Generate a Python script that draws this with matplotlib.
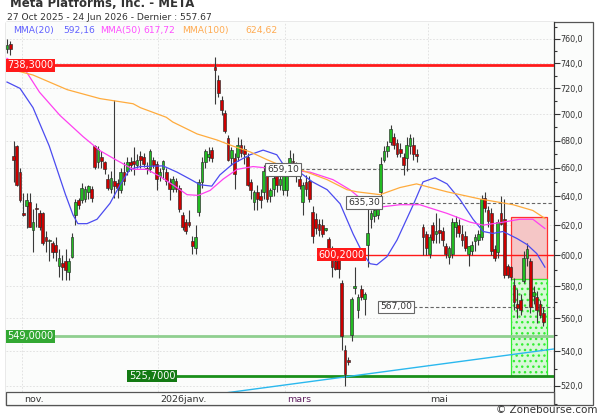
import matplotlib.pyplot as plt
import numpy as np
from matplotlib.patches import Rectangle
from matplotlib.ticker import FixedLocator, NullFormatter, NullLocator

# Données : séances (indice), cours OHLC
days = list(range(0, 127)) + list(range(128, 166))
opens = [752, 756, 669, 676, 657, 628, 633, 636, 617, 632, 628, 628, 612, 609, 608, 607, 593, 595, 596, 589,
         599, 627, 637, 637, 638, 643, 645, 676, 664, 668, 664, 652, 645, 651, 649, 644, 657, 658, 664, 665,
         662, 669, 668, 660, 659, 666, 663, 654, 659, 657, 650, 645, 651, 646, 627, 622, 622, 609, 605, 629,
         650, 664, 668, 673, 737, 727, 711, 701, 682, 667, 667, 668, 677, 674, 668, 650, 636, 643, 640, 643,
         655, 640, 645, 655, 648, 644, 644, 657, 665, 660, 652, 636, 650, 651, 629, 624, 621, 620, 617, 611,
         603, 596, 597, 582, 541, 535, 550, 579, 565, 578, 572, 607, 624, 626, 627, 643, 666, 672, 679, 683,
         678, 674, 668, 667, 676, 677, 670,
         619, 614, 601, 620, 614, 617, 616, 606, 599, 601, 619, 620, 614, 613, 601, 603, 609, 610, 612, 639,
         630, 628, 604, 602, 628, 624, 593, 592, 581, 569, 571, 583, 598, 596, 574, 573, 569, 563]
highs = [760, 758, 680, 677, 660, 642, 642, 642, 631, 635, 630, 629, 616, 611, 609, 612, 604, 600, 604, 598,
         615, 638, 639, 649, 647, 648, 647, 677, 676, 672, 665, 656, 658, 711, 652, 660, 664, 668, 668, 675,
         670, 672, 671, 664, 674, 668, 665, 660, 666, 660, 653, 654, 653, 648, 629, 624, 630, 613, 620, 652,
         668, 674, 675, 675, 745, 731, 714, 703, 684, 675, 671, 683, 681, 677, 671, 652, 644, 648, 645, 662,
         658, 646, 655, 660, 655, 660, 662, 673, 671, 664, 654, 650, 655, 654, 633, 628, 624, 624, 618, 612,
         606, 604, 600, 584, 544, 537, 573, 592, 575, 581, 576, 633, 630, 632, 634, 668, 676, 680, 692, 686,
         681, 678, 671, 683, 685, 683, 674,
         621, 616, 614, 622, 628, 625, 619, 608, 606, 625, 626, 624, 620, 616, 606, 609, 614, 617, 641, 643,
         633, 632, 607, 624, 640, 638, 594, 593, 585, 578, 575, 603, 608, 598, 580, 577, 571, 567]
lows = [748, 747, 650, 647, 636, 626, 618, 619, 602, 619, 617, 607, 602, 596, 598, 596, 586, 584, 584, 584,
        598, 620, 631, 635, 636, 638, 636, 659, 660, 660, 656, 644, 642, 639, 639, 642, 648, 655, 658, 655,
        660, 660, 661, 656, 657, 660, 644, 651, 652, 648, 637, 643, 643, 629, 617, 614, 619, 601, 601, 626,
        646, 660, 665, 664, 708, 713, 699, 686, 665, 662, 645, 665, 668, 663, 647, 638, 630, 630, 632, 638,
        636, 636, 640, 643, 644, 641, 640, 654, 655, 650, 645, 627, 640, 636, 608, 614, 613, 612, 616, 603,
        586, 590, 585, 541, 520, 532, 546, 575, 560, 571, 562, 592, 618, 622, 624, 640, 664, 668, 677, 674,
        668, 668, 655, 658, 670, 666, 664,
        600, 600, 598, 608, 608, 608, 606, 598, 594, 598, 612, 612, 606, 603, 593, 600, 603, 607, 610, 629,
        619, 600, 596, 598, 620, 585, 585, 584, 565, 560, 562, 582, 593, 563, 569, 557, 560, 555]
closes = [755, 752, 666, 648, 637, 627, 637, 619, 622, 631, 619, 608, 609, 610, 602, 602, 598, 592, 590, 596,
          612, 636, 634, 646, 645, 647, 639, 661, 674, 665, 659, 646, 653, 647, 646, 657, 651, 664, 662, 663,
          666, 666, 663, 659, 672, 662, 652, 657, 665, 651, 645, 652, 645, 631, 619, 616, 620, 606, 612, 650,
          664, 672, 670, 667, 735, 716, 703, 687, 666, 673, 656, 677, 671, 670, 648, 644, 643, 638, 637, 658,
          638, 644, 653, 648, 652, 658, 659, 667, 664, 656, 647, 648, 645, 638, 613, 618, 617, 614, 617, 604,
          592, 591, 591, 549, 527, 534, 572, 580, 573, 573, 575, 615, 628, 630, 631, 663, 672, 676, 689, 677,
          670, 671, 662, 677, 682, 670, 669,
          612, 605, 612, 610, 616, 615, 610, 601, 605, 622, 622, 615, 610, 605, 606, 607, 612, 614, 638, 632,
          623, 603, 598, 622, 621, 587, 587, 586, 570, 566, 565, 598, 604, 567, 576, 565, 562, 557.67]

# Moyennes mobiles (séance, valeur)
mma20_x = [0, 4, 8, 13, 18, 20.3, 21.8, 24.6, 27.7, 31.7, 34.8, 37.8, 41, 48, 52.3, 56.3, 59.4, 63, 65.5,
           69.5, 74.8, 78.8, 83, 86, 90, 94, 98.5, 102.5, 106.5, 109.5, 111.7, 113.8, 116.9, 120, 125, 128,
           131.7, 135.4, 139.4, 143.4, 146.5, 149.5, 152.6, 156.9, 160, 163, 165.5]
mma20_y = [725, 720, 705, 676, 641, 627, 621, 621, 624, 635, 648, 659, 661, 661.5, 657, 652, 648, 647, 655,
           663, 669.6, 673, 669.6, 659, 657, 650, 644.5, 634.6, 614, 601, 594.4, 593.7, 599, 610, 634, 650,
           653, 648.6, 637.5, 624, 615.7, 614.4, 615.7, 611, 607, 601, 592.16]
mma50_x = [0, 6, 10, 16.3, 23.4, 28.6, 33.8, 38.8, 43, 47, 51, 55.4, 58.8, 62.5, 66.5, 70.8, 75.7, 80, 84,
           93.2, 100.3, 105.5, 110.8, 115.7, 120.9, 127, 135.4, 142.5, 146.5, 152.6, 157.8, 161.8, 165.5]
mma50_y = [744, 733, 717, 699, 683, 672.6, 665.5, 659, 659, 654, 648, 641, 640.5, 644, 652, 659, 661, 660,
           659, 657, 651.6, 644.5, 634.6, 632.6, 634, 634, 628, 622, 620, 622, 624, 624, 617.72]
mma100_x = [0, 8, 18.5, 28.6, 38.8, 41, 49, 51, 58.5, 64.6, 69.5, 74.8, 80, 84, 90, 98.5, 104.6, 107.7,
            114.8, 120.9, 126, 135.4, 145.5, 155.7, 161.8, 165.5]
mma100_y = [736, 730.6, 719, 712, 708, 705, 697.6, 694, 685, 680.5, 676, 671.7, 666, 662, 659, 651.6, 644.5,
            643, 641, 646, 648.6, 643, 638, 634, 630, 624.62]

# Niveaux horizontaux
level_values = [738.3, 600.2, 549.0, 525.7]
level_start = [-0.31, 95.4, -0.31, 37]
level_colors = ['#ff1a1a', '#ff1a1a', '#8fcf8f', '#1a8f1a']
level_box = ['#ff1a1a', '#ff1a1a', '#33a833', '#137a13']
level_widths = [2.0, 1.0, 2.0, 2.0]
dash_values = [659.10, 635.30, 567.00]
dash_start = [80, 105, 114.8]

# Oblique (support) et zones
trend_x = [60, 168.3]
trend_y = [514.3, 541.5]
zone_x = [155.2, 166.2]
zone_red = [584.8, 625.4]
zone_green = [525.7, 584.8]

months = ['nov.', '2026janv.', 'mars', 'mai']
month_pos = [4.5, 46.5, 85.5, 129.5]
month_colors = ['#333333', '#333333', '#602060', '#333333']

W, H = 600, 413
plt.rcParams['hatch.color'] = '#c4eec4'
fig = plt.figure(figsize=(W / 100, H / 100), dpi=100)
fig.patch.set_facecolor('white')


def fx(px):
    return px / W


def fy(py):
    return 1 - py / H


# cadre extérieur
fig.patches.append(Rectangle((fx(6), fy(405)), fx(593) - fx(6), fy(22) - fy(405), transform=fig.transFigure,
                             facecolor='#fbfcfb', edgecolor='#555555', lw=0.9, zorder=-5))

ax = fig.add_axes([fx(6), fy(405), fx(554) - fx(6), fy(22) - fy(405)])
ax.set_zorder(2)
ax.set_facecolor('#fbfcfb')
ax.set_yscale('log')
ax.set_ylim(509.3, 774.2)
ax.set_xlim(-0.31, 168.3)
for s in ['left', 'top', 'bottom']:
    ax.spines[s].set_visible(False)
ax.spines['right'].set_color('#333333')
ax.spines['right'].set_linewidth(0.9)

major = np.arange(520, 761, 20)
minor = np.arange(510, 771, 10)
minor = [m for m in minor if m % 20 != 0]
ax.yaxis.tick_right()
ax.yaxis.set_major_locator(FixedLocator(major))
ax.yaxis.set_minor_locator(FixedLocator(minor))
ax.yaxis.set_minor_formatter(NullFormatter())
ax.set_yticklabels([f'{v:.1f}'.replace('.', ',') for v in major])
ax.tick_params(axis='y', which='major', length=4, width=0.8, pad=0.5, labelsize=5.8, colors='#333333')
ax.tick_params(axis='y', which='minor', length=2.5, width=0.8, colors='#333333')
ax.xaxis.set_major_locator(NullLocator())

# grille
for v in major:
    ax.axhline(v, color='#dedede', lw=0.6, ls=(0, (2, 2)), zorder=1)
for m in month_pos:
    ax.axvline(m, color='#dedede', lw=0.6, ls=(0, (2, 2)), zorder=1)

# zones
ax.add_patch(Rectangle((zone_x[0], zone_red[0]), zone_x[1] - zone_x[0], zone_red[1] - zone_red[0],
                       facecolor='#f5c6c6', edgecolor='#ff3030', lw=0.9, zorder=2))
ax.add_patch(Rectangle((zone_x[0], zone_green[0]), zone_x[1] - zone_x[0], zone_green[1] - zone_green[0],
                       facecolor='#d8f8d8', edgecolor='#33ee33', lw=0.9, hatch='...', zorder=2))

# niveaux
for v, x0, c, bc, lw in zip(level_values, level_start, level_colors, level_box, level_widths):
    ax.plot([x0, 168.3], [v, v], color=c, lw=lw, zorder=3, solid_capstyle='butt')
    ax.text(x0 + 0.5, v, f'{v:.4f}'.replace('.', ','), color='white', fontsize=7, va='center', ha='left',
            zorder=8, bbox=dict(boxstyle='square,pad=0.15', fc=bc, ec='none'))
for v, x0 in zip(dash_values, dash_start):
    ax.plot([x0, 168.3], [v, v], color='#666666', lw=0.8, ls=(0, (3, 2)), zorder=3)
    ax.text(x0, v, f'{v:.2f}'.replace('.', ','), color='#333333', fontsize=6.6, va='center', ha='left',
            zorder=8, bbox=dict(boxstyle='square,pad=0.2', fc='white', ec='#666666', lw=0.8))

ax.plot(trend_x, trend_y, color='#2ab8ee', lw=1.0, zorder=3)

# bougies
o = np.array(opens, float)
c = np.array(closes, float)
up = c >= o
ax.vlines(days, lows, highs, color='#3a3a3a', lw=0.8, zorder=4)
bottoms = np.minimum(o, c)
heights = np.maximum(np.abs(c - o), 0.8)
ax.bar(days, heights, bottom=bottoms, width=0.85, color=np.where(up, '#22bb22', '#cc0000'),
       edgecolor='#2a2a2a', linewidth=0.45, zorder=5)

# moyennes mobiles
ax.plot(mma20_x, mma20_y, color='#4b4bf0', lw=0.9, zorder=6)
ax.plot(mma50_x, mma50_y, color='#ff40f0', lw=0.9, zorder=6)
ax.plot(mma100_x, mma100_y, color='#ffab3d', lw=0.9, zorder=6)

# bande des dates
strip_h = 13 / 383
ax.add_patch(Rectangle((0, 0), 1, strip_h, transform=ax.transAxes, facecolor='#fbfcfb', edgecolor='#555555',
                       lw=0.9, zorder=9, clip_on=False))
for lab, m, col in zip(months, month_pos, month_colors):
    ax.text(m + 0.8, 509.8, lab, fontsize=6.8, color=col, ha='left', va='bottom', zorder=10)

# titres et légende
fig.text(fx(10), fy(7), 'Meta Platforms, Inc. - META', fontsize=8.5, fontweight='bold', color='#333333',
         va='baseline')
fig.text(fx(7), fy(19.5), '27 Oct 2025 - 24 Jun 2026 - Dernier : 557.67', fontsize=6.6, color='#333333',
         va='baseline')
leg = [('MMA(20)', mma20_y[-1], '#6060ff', 13, 63), ('MMA(50)', mma50_y[-1], '#ff50ff', 100, 143),
       ('MMA(100)', mma100_y[-1], '#ffaa50', 182, 245)]
for name, val, col, x1, x2 in leg:
    ax.text(fx(x1), fy(30), name, transform=fig.transFigure, fontsize=6.6, color=col, va='center', zorder=10)
    ax.text(fx(x2), fy(30), f'{val:.2f}'.replace('.', ','), transform=fig.transFigure, fontsize=6.6,
            color=col, va='center', zorder=10)
fig.text(fx(598), fy(405), '© Zonebourse.com', fontsize=7.5, color='#333333', ha='right', va='top')

fig.savefig('out.png', dpi=100)
